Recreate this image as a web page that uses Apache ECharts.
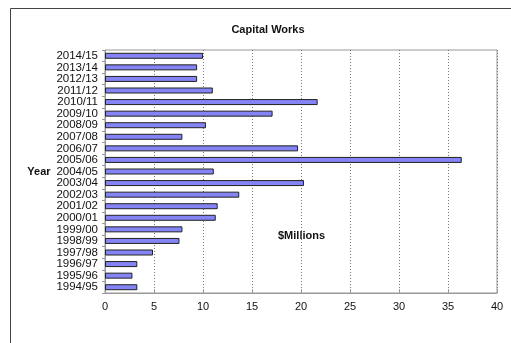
<!DOCTYPE html>
<html>
<head>
<meta charset="utf-8">
<script src="https://cdn.jsdelivr.net/npm/echarts@6/dist/echarts.min.js"></script>
<style>
  html, body { margin: 0; padding: 0; background: #fff; }
  #chart { width: 511px; height: 343px; }
</style>
</head>
<body>
<div id="chart"></div>
<script>
// financial years, bottom to top
const years = ['1994/95', '1995/96', '1996/97', '1997/98', '1998/99', '1999/00', '2000/01',
  '2001/02', '2002/03', '2003/04', '2004/05', '2005/06', '2006/07', '2007/08', '2008/09',
  '2009/10', '2010/11', '2011/12', '2012/13', '2013/14', '2014/15']
// capital works, $ millions
const spend = [3.3, 2.8, 3.3, 4.9, 7.6, 7.9, 11.3, 11.5, 13.7, 20.3, 11.1, 36.4, 19.7, 7.9, 10.3,
  17.1, 21.7, 11.0, 9.4, 9.4, 10.0]
const xTicks = [0, 5, 10, 15, 20, 25, 30, 35, 40]

const chart = echarts.init(document.getElementById('chart'))
const font = 'Arial, "Liberation Sans", sans-serif'

chart.setOption({
  animation: false,
  title: {
    text: 'Capital Works',
    left: 263,
    top: 19,
    textAlign: 'center',
    textStyle: { fontFamily: font, fontSize: 11, fontWeight: 'bold', color: '#111' }
  },
  graphic: [
    {
      type: 'polyline',
      shape: { points: [[10.5, 343], [10.5, 8.5], [511, 8.5]] },
      style: { stroke: '#444', lineWidth: 1, fill: null }
    },
    {
      type: 'text',
      left: 278,
      top: 230,
      style: { text: '$Millions', font: 'bold 11px ' + font, fill: '#111' }
    }
  ],
  grid: {
    left: 105,
    right: 14,
    top: 50,
    bottom: 50,
    show: true,
    borderColor: '#999',
    borderWidth: 1
  },
  xAxis: {
    type: 'value',
    min: xTicks[0],
    max: xTicks[xTicks.length - 1],
    interval: 5,
    axisLine: { show: true, lineStyle: { color: '#999' } },
    axisTick: { show: true, length: 4, inside: true, lineStyle: { color: '#999' } },
    axisLabel: { fontFamily: font, fontSize: 11, color: '#111', margin: 8 },
    splitLine: { show: true, lineStyle: { color: '#777', type: [1, 2] } }
  },
  yAxis: {
    type: 'category',
    data: years,
    name: 'Year',
    nameLocation: 'middle',
    nameRotate: 0,
    nameGap: 53,
    nameTextStyle: { fontFamily: font, fontSize: 11, fontWeight: 'bold', color: '#111', align: 'right' },
    axisLine: { show: true, lineStyle: { color: '#999' } },
    axisTick: { show: true, length: 3, lineStyle: { color: '#999' } },
    axisLabel: { fontFamily: font, fontSize: 11.5, color: '#111', margin: 7, interval: 0 },
    splitLine: { show: false }
  },
  series: [{
    type: 'bar',
    data: spend,
    barWidth: 6,
    itemStyle: { color: '#8484f4', borderColor: '#222', borderWidth: 1 }
  }]
})
</script>
</body>
</html>
